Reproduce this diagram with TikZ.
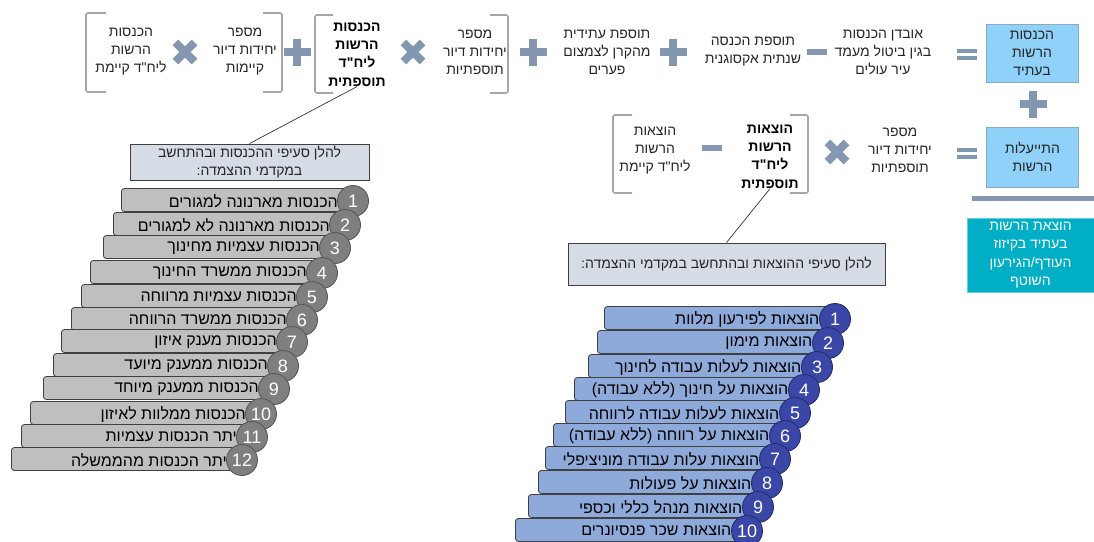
\documentclass[tikz,border=0pt]{standalone}
\usepackage{fontspec}
\setmainfont{Liberation Sans}
\newfontfamily\hebfont[Script=Hebrew]{Liberation Sans}
\TeXXeTstate=1
\newcommand{\heb}[1]{\beginR#1\endR}

\definecolor{signgray}{HTML}{8497B0}
\definecolor{skyfill}{HTML}{8FD1F8}
\definecolor{skyline}{HTML}{8EAAC0}
\definecolor{tealfill}{HTML}{00AFC6}
\definecolor{notefill}{HTML}{D6DCE5}
\definecolor{incbarfill}{HTML}{BFBFBF}
\definecolor{inccircfill}{HTML}{7F7F7F}
\definecolor{expbarfill}{HTML}{8EAADB}
\definecolor{expcircfill}{HTML}{3A47A6}
\definecolor{bracketgray}{HTML}{A6A6A6}

\tikzset{
  plussign/.pic={\fill[signgray] (-13.5,-4) rectangle (13.5,4);
    \fill[signgray] (-4,-13.5) rectangle (4,13.5);},
  timessign/.pic={\begin{scope}[rotate=45]
    \fill[signgray] (-13.5,-4) rectangle (13.5,4);
    \fill[signgray] (-4,-13.5) rectangle (4,13.5);\end{scope}},
  minussign/.pic={\fill[signgray] (-10,-3) rectangle (10,3);},
  eqsign/.pic={\fill[signgray] (-10,-5.5) rectangle (10,-1.5);
    \fill[signgray] (-10,1.5) rectangle (10,5.5);},
}

\begin{document}
\begin{tikzpicture}[x=1pt,y=-1pt,
  term/.style={font=\hebfont\fontsize{14}{18}\selectfont, align=center, text=black!85, inner sep=0pt},
  boldterm/.style={font=\hebfont\bfseries\fontsize{14}{18.4}\selectfont, align=center, text=black, inner sep=0pt},
  skybox/.style={term, fill=skyfill, draw=skyline, line width=0.8pt, minimum width=92pt},
  tealbox/.style={font=\hebfont\fontsize{14}{18.4}\selectfont, align=center, text=white, inner sep=0pt,
    fill=tealfill, draw=tealfill!60!white, line width=0.6pt, minimum width=127pt, minimum height=74pt},
  notebox/.style={font=\hebfont\fontsize{14}{18}\selectfont, align=center, text=black!85, inner sep=0pt,
    fill=notefill, draw=black!75, line width=0.9pt},
  bracket/.style={draw=bracketgray, line width=1.6pt, rounded corners=2pt},
  callout/.style={draw=black!80, line width=0.7pt},
  itemtext/.style={font=\hebfont\fontsize{16}{17}\selectfont, text=black, inner sep=0pt},
  incbar/.style={draw=black!75, fill=incbarfill, line width=0.8pt, rounded corners=3pt, minimum height=23pt, inner sep=0pt},
  expbar/.style={draw=black!75, fill=expbarfill, line width=0.8pt, rounded corners=3pt, minimum height=23pt, inner sep=0pt},
  inccircle/.style={circle, draw=black!65, fill=inccircfill, line width=0.9pt, minimum size=31pt, inner sep=0pt,
    text=white, font=\fontsize{18}{18}\selectfont},
  expcircle/.style={circle, draw=expcircfill!65!black, fill=expcircfill, line width=0.9pt, minimum size=31pt, inner sep=0pt,
    text=white, font=\fontsize{18}{18}\selectfont},
]
\useasboundingbox (0,0) rectangle (1094,541);

% first line: future income
\node[skybox, minimum height=58pt] (incfuture) at (1032,53) {\heb{הכנסות}\\\heb{הרשות}\\\heb{בעתיד}};
\pic at (967,54) {eqsign};
\node[term] (lossterm) at (883,52) {\heb{אובדן הכנסות}\\\heb{בגין ביטול מעמד}\\\heb{עיר עולים}};
\pic at (817,52) {minussign};
\node[term] (exoterm) at (753,52) {\heb{תוספת הכנסה}\\\heb{שנתית אקסוגנית}};
\pic at (673,52) {plussign};
\node[term] (fundterm) at (607,52) {\heb{תוספת עתידית}\\\heb{מהקרן לצמצום}\\\heb{פערים}};
\pic at (533,52) {plussign};
\draw[bracket] (490,15) -- (508,15) -- (508,93) -- (490,93);
\node[term] (addunits) at (475,52) {\heb{מספר}\\\heb{יחידות דיור}\\\heb{תוספתיות}};
\pic at (413,52) {timessign};
\node[boldterm] (incadd) at (357,54.5) {\heb{הכנסות}\\\heb{הרשות}\\\heb{ליח"ד}\\\heb{תוספתית}};
\draw[bracket] (333,15) -- (315,15) -- (315,93) -- (333,93);
\pic at (297,52) {plussign};
\draw[bracket] (263,13) -- (282,13) -- (282,92) -- (263,92);
\node[term] (exunits) at (245,52) {\heb{מספר}\\\heb{יחידות דיור}\\\heb{קיימות}};
\pic at (185,52) {timessign};
\node[term] (incexist) at (131,52) {\heb{הכנסות}\\\heb{הרשות}\\\heb{ליח"ד קיימת}};
\draw[bracket] (106,13) -- (86,13) -- (86,92) -- (106,92);

% second line: efficiency
\pic at (1033,104) {plussign};
\node[skybox, minimum height=60pt] (efficiency) at (1032.5,157) {\heb{התייעלות}\\\heb{הרשות}};
\pic at (967,153) {eqsign};
\node[term] (addunitstwo) at (900,150) {\heb{מספר}\\\heb{יחידות דיור}\\\heb{תוספתיות}};
\pic at (837,152) {timessign};
\draw[bracket] (790,115) -- (808,115) -- (808,193) -- (790,193);
\node[boldterm] (expadd) at (770,156.5) {\heb{הוצאות}\\\heb{הרשות}\\\heb{ליח"ד}\\\heb{תוספתית}};
\pic at (712,148) {minussign};
\node[term] (expexist) at (655,151) {\heb{הוצאות}\\\heb{הרשות}\\\heb{ליח"ד קיימת}};
\draw[bracket] (632,115) -- (613,115) -- (613,193) -- (632,193);

% fraction bar and result
\fill[signgray] (972,196) rectangle (1094,201);
\node[tealbox] (expfuture) at (1030.5,255) {\heb{הוצאת הרשות}\\\heb{בעתיד בקיזוז}\\\heb{העודף/הגירעון}\\\heb{השוטף}};

% notes
\node[notebox, minimum width=239pt, minimum height=36pt] (incnote) at (249.5,162) {\heb{להלן סעיפי ההכנסות ובהתחשב}\\\heb{במקדמי ההצמדה:}};
\node[notebox, minimum width=317pt, minimum height=42pt] (expnote) at (726.5,264) {\heb{להלן סעיפי ההוצאות ובהתחשב במקדמי ההצמדה:}};
\draw[callout] (incadd.south) -- (incnote.north);
\draw[callout] (expadd.south) -- (expnote.north);

% income items
\foreach \n/\lx/\cx/\cy/\txt in {
  1/121/353/201/{הכנסות מארנונה למגורים},
  2/113/345/225/{הכנסות מארנונה לא למגורים},
  3/103/335/248/{הכנסות עצמיות מחינוך},
  4/90/322/273/{הכנסות ממשרד החינוך},
  5/81/312/297/{הכנסות עצמיות מרווחה},
  6/71/302/320/{הכנסות ממשרד הרווחה},
  7/61/292/342/{הכנסות מענק איזון},
  8/53/283/366/{הכנסות ממענק מיועד},
  9/43/274/389/{הכנסות ממענק מיוחד},
  10/30/261/414/{הכנסות ממלוות לאיזון},
  11/21/252/437/{יתר הכנסות עצמיות},
  12/11/242/460/{יתר הכנסות מהממשלה}}
{
  \node[incbar, minimum width={(\cx-\lx)*1pt}, anchor=west] (incbar\n) at (\lx,\cy-1) {};
  \node[itemtext, anchor=east] (inctext\n) at (\cx-15,\cy) {\heb{\txt}};
  \node[inccircle] (incnum\n) at (\cx,\cy) {\n};
}

% expense items
\foreach \n/\lx/\cx/\cy/\txt in {
  1/604/835/319/{הוצאות לפירעון מלוות},
  2/597/828/343/{הוצאות מימון},
  3/588/817/367/{הוצאות לעלות עבודה לחינוך},
  4/574/804/390/{הוצאות על חינוך (ללא עבודה)},
  5/565/795/413/{הוצאות לעלות עבודה לרווחה},
  6/553/785/436/{הוצאות על רווחה (ללא עבודה)},
  7/545/775/459/{הוצאות עלות עבודה מוניציפלי},
  8/538/767/483/{הוצאות על פעולות},
  9/528/758/507/{הוצאות מנהל כללי וכספי},
  10/515/747/531/{הוצאות שכר פנסיונרים}}
{
  \node[expbar, minimum width={(\cx-\lx)*1pt}, anchor=west] (expbar\n) at (\lx,\cy-1) {};
  \node[itemtext, anchor=east] (exptext\n) at (\cx-15.5,\cy) {\heb{\txt}};
  \node[expcircle] (expnum\n) at (\cx,\cy) {\n};
}
\end{tikzpicture}
\end{document}
